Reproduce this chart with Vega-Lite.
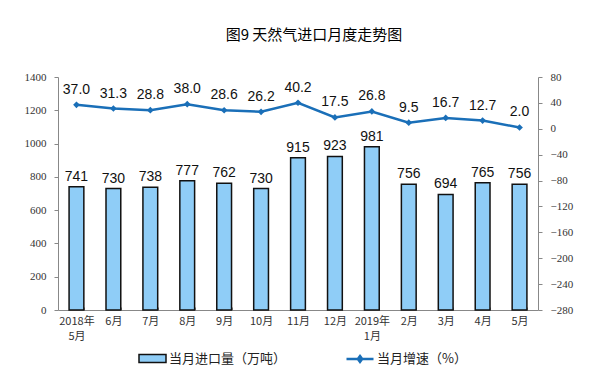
{
  "$schema": "https://vega.github.io/schema/vega-lite/v6.json",
  "autosize": {"type": "none"},
  "width": 480,
  "height": 233,
  "padding": {"left": 58, "top": 77, "right": 59, "bottom": 68},
  "background": "white",
  "title": {"text": "图9  天然气进口月度走势图", "font": "Noto Sans CJK SC", "fontSize": 15, "fontWeight": "normal", "color": "#000", "anchor": "middle", "offset": 28, "dx": 16},
  "config": {"view": {"stroke": null}},
  "data": {"values": [
    {"month": "2018年 5月", "vol": 741, "g": 37.0, "gl": "37.0"},
    {"month": "6月", "vol": 730, "g": 31.3, "gl": "31.3"},
    {"month": "7月", "vol": 738, "g": 28.8, "gl": "28.8"},
    {"month": "8月", "vol": 777, "g": 38.0, "gl": "38.0"},
    {"month": "9月", "vol": 762, "g": 28.6, "gl": "28.6"},
    {"month": "10月", "vol": 730, "g": 26.2, "gl": "26.2"},
    {"month": "11月", "vol": 915, "g": 40.2, "gl": "40.2"},
    {"month": "12月", "vol": 923, "g": 17.5, "gl": "17.5"},
    {"month": "2019年 1月", "vol": 981, "g": 26.8, "gl": "26.8"},
    {"month": "2月", "vol": 756, "g": 9.5, "gl": "9.5"},
    {"month": "3月", "vol": 694, "g": 16.7, "gl": "16.7"},
    {"month": "4月", "vol": 765, "g": 12.7, "gl": "12.7"},
    {"month": "5月", "vol": 756, "g": 2.0, "gl": "2.0"}
  ]},
  "encoding": {
    "x": {"field": "month", "type": "nominal", "sort": null,
      "scale": {"paddingInner": 0.6, "paddingOuter": 0.3},
      "axis": {"title": null, "labelAngle": 0, "labelExpr": "datum.value ? split(datum.value, ' ') : ''", "labelFont": "Noto Sans CJK SC", "labelFontSize": 11, "labelColor": "#333", "labelPadding": 8, "domainColor": "#888", "tickColor": "#888", "tickBand": "extent", "tickSize": -3, "labelLineHeight": 15}}
  },
  "layer": [
    {
      "encoding": {
        "y": {"field": "vol", "type": "quantitative", "scale": {"domain": [0, 1400], "nice": false},
          "axis": {"title": null, "orient": "left", "values": [0,200,400,600,800,1000,1200,1400], "format": "d", "grid": false, "labelFont": "Liberation Serif", "labelFontSize": 11, "labelColor": "#333", "domainColor": "#888", "tickColor": "#888", "tickSize": 4, "labelPadding": 8}}
      },
      "layer": [
        {"mark": {"type": "bar", "stroke": "#111", "strokeWidth": 1.5},
         "encoding": {"color": {"datum": "当月进口量（万吨）", "scale": {"range": ["#8fcdf7"]},
           "legend": {"title": null, "orient": "none", "legendX": 80, "legendY": 267, "symbolType": "M-1,-0.3H1V0.3H-1Z", "symbolSize": 729, "symbolStrokeColor": "#111", "symbolStrokeWidth": 1.5, "symbolOpacity": 1, "labelFont": "Noto Sans CJK SC", "labelFontSize": 13, "labelColor": "#222", "labelOffset": 2}}}},
        {"mark": {"type": "text", "baseline": "bottom", "dy": -3, "font": "Liberation Sans", "fontSize": 14, "color": "#111"},
         "encoding": {"text": {"field": "vol"}}}
      ]
    },
    {
      "encoding": {
        "y": {"field": "g", "type": "quantitative", "scale": {"domain": [-280, 80], "nice": false},
          "axis": {"title": null, "orient": "right", "values": [-280,-240,-200,-160,-120,-80,-40,0,40,80], "format": "d", "grid": false, "labelFont": "Liberation Serif", "labelFontSize": 11, "labelColor": "#333", "domainColor": "#888", "tickColor": "#888", "tickSize": 4, "labelPadding": 8}}
      },
      "layer": [
        {"mark": {"type": "line", "strokeWidth": 2.5},
         "encoding": {"color": {"datum": "当月增速（%）", "scale": {"range": ["#1a6fb8"]},
           "legend": {"title": null, "orient": "none", "legendX": 287, "legendY": 267, "symbolType": "M-1,0H1M0,-0.22L0.16,0L0,0.22L-0.16,0Z", "symbolSize": 729, "symbolStrokeWidth": 2.5, "symbolFillColor": "#1a6fb8", "labelFont": "Noto Sans CJK SC", "labelFontSize": 13, "labelColor": "#222", "labelOffset": 2}}}},
        {"mark": {"type": "point", "shape": "diamond", "filled": true, "size": 45, "color": "#1a6fb8", "opacity": 1}},
        {"mark": {"type": "text", "baseline": "bottom", "dy": -8, "font": "Liberation Sans", "fontSize": 14, "color": "#111"},
         "encoding": {"text": {"field": "gl"}}}
      ]
    }
  ],
  "resolve": {"scale": {"y": "independent", "color": "independent"}, "legend": {"color": "independent"}}
}
